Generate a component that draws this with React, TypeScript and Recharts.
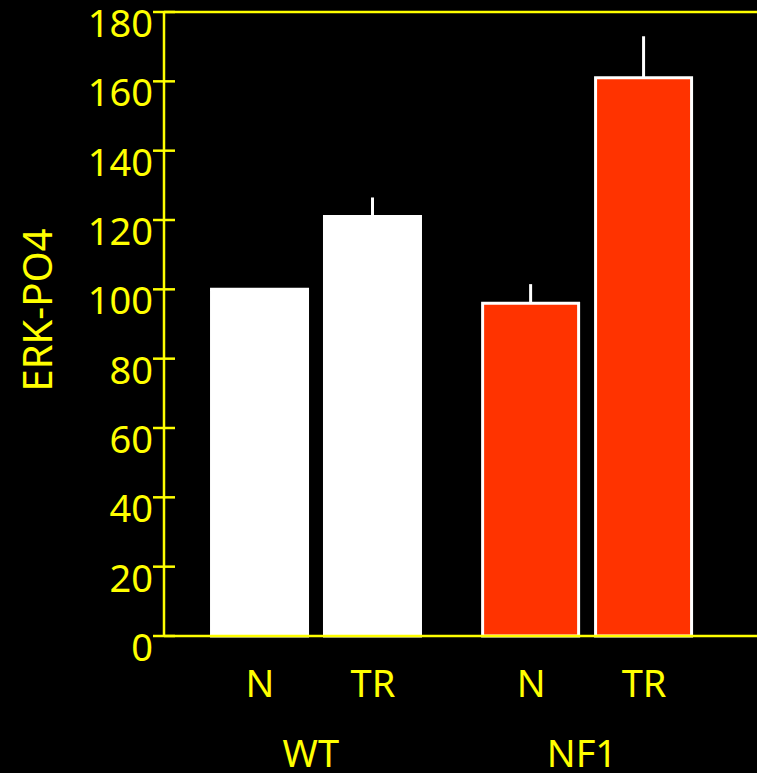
import React from "react"
import { Bar, BarChart, Cell, ErrorBar, Label, ReferenceLine, XAxis, YAxis } from "recharts"

const groups = ["WT", "NF1"]
const groupPos = [1.3, 3.7]
const conditions = ["N", "TR", "N", "TR"]
const xPos = [0.85, 1.85, 3.25, 4.25]
const values = [100, 121, 96, 161]
const errors = [0, 5.5, 5.5, 12]
const barColors = ["#ffffff", "#ffffff", "#ff3300", "#ff3300"]
const yTicks = [0, 20, 40, 60, 80, 100, 120, 140, 160, 180]

const YELLOW = "#ffff00"
const FONT = "'Noto Sans', sans-serif"
const FS = 38

const data = values.map((v, i) => ({
  x: xPos[i],
  value: v,
  err: [0, errors[i]],
  label: conditions[i],
}))

const YTick = (props: any) => {
  const { x, y, payload } = props
  return (
    <g>
      <line x1={x - 11} x2={x + 11} y1={y} y2={y} stroke={YELLOW} strokeWidth={2.5} />
      <text x={x - 11} y={y + 25} textAnchor="end" fill={YELLOW} fontSize={FS} fontFamily={FONT}>
        {payload.value}
      </text>
    </g>
  )
}

const CondTick = (props: any) => {
  const { x, y, payload } = props
  const i = xPos.indexOf(payload.value)
  return (
    <text x={x} y={y + 61} textAnchor="middle" fill={YELLOW} fontSize={FS} fontFamily={FONT}>
      {conditions[i]}
    </text>
  )
}

const GroupTick = (props: any) => {
  const { x, y, payload } = props
  const i = groupPos.indexOf(payload.value)
  return (
    <text x={x} y={y + 51} textAnchor="middle" fill={YELLOW} fontSize={FS} fontFamily={FONT}>
      {groups[i]}
    </text>
  )
}

const App = () => {
  return (
    <div style={{ position: "fixed", left: 0, top: 0, width: 757, height: 773, background: "#000" }}>
      <BarChart
        width={757}
        height={773}
        data={data}
        margin={{ top: 12, right: 0, left: 0, bottom: 0 }}
      >
        <XAxis
          xAxisId="bars"
          dataKey="x"
          type="number"
          domain={[0, 5.25]}
          allowDataOverflow
          ticks={xPos}
          tick={<CondTick />}
          tickLine={false}
          tickSize={0}
          tickMargin={0}
          height={80}
          axisLine={{ stroke: YELLOW, strokeWidth: 2.5 }}
          interval={0}
        />
        <XAxis
          xAxisId="groups"
          dataKey="x"
          type="number"
          domain={[0, 5.25]}
          allowDataOverflow
          ticks={groupPos}
          tick={<GroupTick />}
          tickLine={false}
          tickSize={0}
          tickMargin={0}
          height={57}
          axisLine={false}
          interval={0}
        />
        <YAxis
          domain={[0, 180]}
          ticks={yTicks}
          width={164}
          tick={<YTick />}
          tickLine={false}
          tickSize={0}
          tickMargin={0}
          axisLine={{ stroke: YELLOW, strokeWidth: 2.5 }}
          interval={0}
        >
          <Label
            content={({ viewBox }: any) => {
              const cx = viewBox.x + 36
              const cy = viewBox.y + viewBox.height / 2 - 14
              return (
                <text
                  x={cx}
                  y={cy}
                  transform={`rotate(-90 ${cx} ${cy})`}
                  textAnchor="middle"
                  dominantBaseline="central"
                  fill={YELLOW}
                  fontSize={40}
                  fontFamily={FONT}
                >
                  ERK-PO4
                </text>
              )
            }}
          />
        </YAxis>
        <ReferenceLine xAxisId="bars" y={180} stroke={YELLOW} strokeWidth={2.5} />
        <Bar
          xAxisId="bars"
          dataKey="value"
          barSize={96}
          stroke="#ffffff"
          strokeWidth={3}
          isAnimationActive={false}
        >
          {data.map((d, i) => (
            <Cell key={`cell-${i}`} fill={barColors[i]} />
          ))}
          <ErrorBar dataKey="err" direction="y" width={0} stroke="#ffffff" strokeWidth={3} />
        </Bar>
      </BarChart>
    </div>
  )
}

export default App
